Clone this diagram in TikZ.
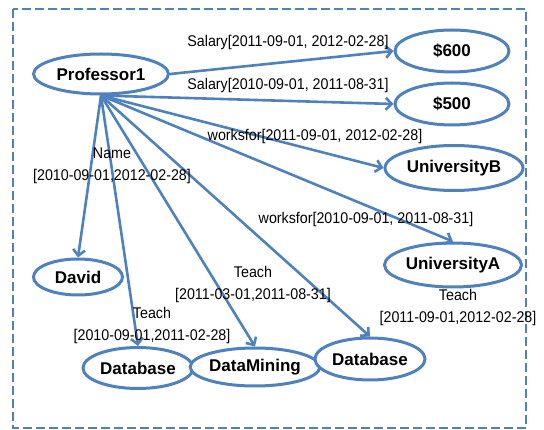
\documentclass[tikz,border=0pt]{standalone}
\usepackage{fontspec}
\setmainfont{Liberation Sans}
\newfontfamily\edgefont[FakeStretch=0.92]{Liberation Sans}
\usetikzlibrary{shapes.geometric, arrows.meta}

\definecolor{linkblue}{RGB}{79,129,189}

\tikzset{
  entity/.style={ellipse, draw=linkblue, line width=3pt, fill=white, inner sep=0pt,
    font=\fontsize{17}{20}\selectfont\bfseries},
  rel/.style={draw=linkblue, line width=2.6pt, -{Straight Barb[length=6pt,width=12pt]}},
  tag/.style={font=\edgefont\fontsize{15.5}{22}\selectfont, align=center, inner sep=0pt}
}

\begin{document}
\begin{tikzpicture}[x=1pt, y=-1pt]
\useasboundingbox (0,0) rectangle (544,430);

% Dashed frame round the graph
\draw[linkblue, line width=2.8pt, dash pattern=on 9pt off 4pt] (13,9) rectangle (526,428);

% Entities
\node[entity, minimum width=135pt, minimum height=40pt] (prof) at (101,74) {Professor1};
\node[entity, minimum width=114pt, minimum height=42pt] (sal600) at (452,51) {\$600};
\node[entity, minimum width=114pt, minimum height=42pt] (sal500) at (452,104) {\$500};
\node[entity, minimum width=138pt, minimum height=45pt] (univB) at (454,168) {UniversityB};
\node[entity, minimum width=137pt, minimum height=44pt] (univA) at (453,265) {UniversityA};
\node[entity, minimum width=89pt, minimum height=36pt] (david) at (78,277) {David};
\node[entity, minimum width=110pt, minimum height=41pt] (dbL) at (138,368) {Database};
\node[entity, minimum width=113pt, minimum height=38pt] (mining) at (255,367) {DataMining};
\node[entity, minimum width=110pt, minimum height=42pt] (dbR) at (370,359) {Database};

% Relations
\draw[rel] (prof.east) -- (sal600.west);
\foreach \dst/\side in {sal500/west, univB/west, univA/north, david/north,
                        dbL/north, mining/north, dbR/north} {
    \draw[rel] (prof.south) -- (\dst.\side);
}

% Relation labels
\node[tag] (tSal600) at (288,42) {Salary[2011-09-01, 2012-02-28]};
\node[tag] (tSal500) at (288,85) {Salary[2010-09-01, 2011-08-31]};
\node[tag] (tUnivB) at (315,136) {worksfor[2011-09-01, 2012-02-28]};
\node[tag] (tUnivA) at (366,219) {worksfor[2010-09-01, 2011-08-31]};
\node[tag] (tName) at (112,166) {Name\\{}[2010-09-01,2012-02-28]};
\node[tag] (tDbL) at (152,325) {Teach\\{}[2010-09-01,2011-02-28]};
\node[tag] (tMining) at (253,284) {Teach\\{}[2011-03-01,2011-08-31]};
\node[tag] (tDbR) at (458,307) {Teach\\{}[2011-09-01,2012-02-28]};

\end{tikzpicture}
\end{document}
